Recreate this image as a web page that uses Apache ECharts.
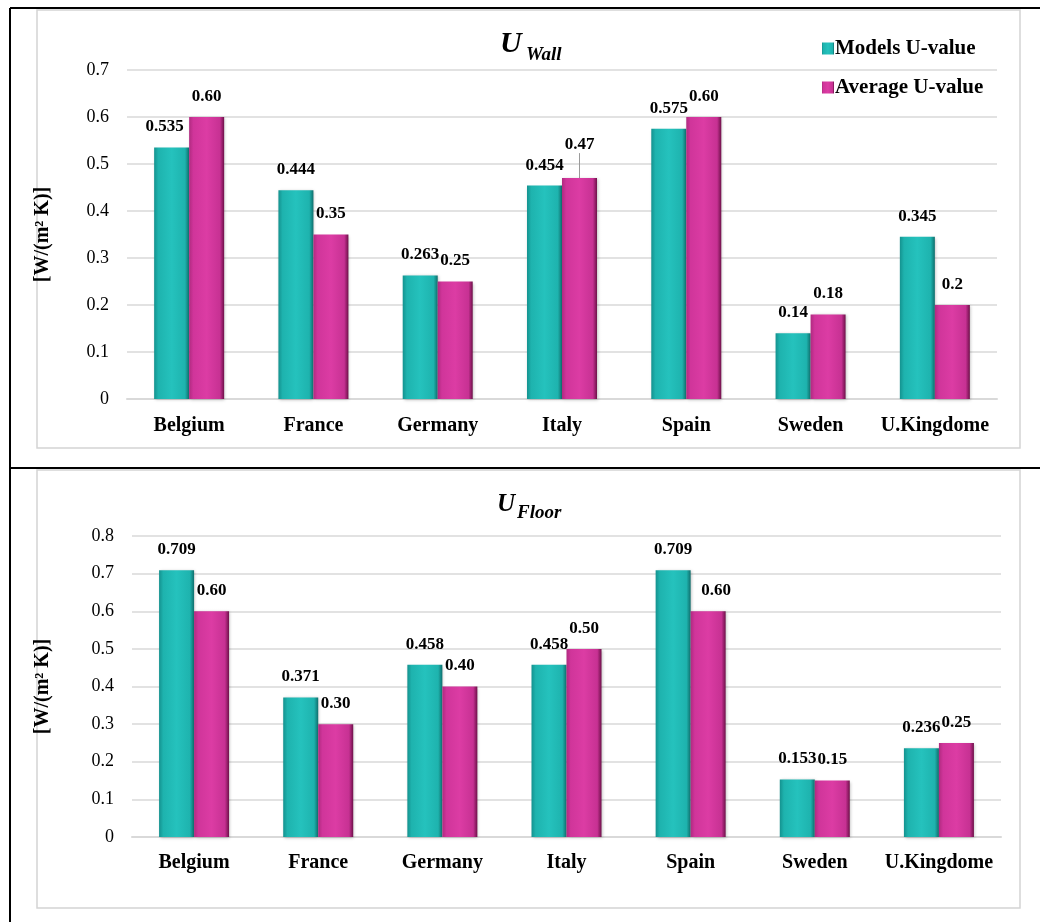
<!DOCTYPE html>
<html>
<head>
<meta charset="utf-8">
<script src="https://cdn.jsdelivr.net/npm/echarts@6/dist/echarts.min.js"></script>
<style>
  html, body { margin: 0; padding: 0; background: #ffffff; }
  #chart { width: 1040px; height: 922px; }
</style>
</head>
<body>
<div id="chart"></div>
<script>
// Countries on the category axis
const countries = ['Belgium', 'France', 'Germany', 'Italy', 'Spain', 'Sweden', 'U.Kingdome'];
const seriesNames = ['Models U-value', 'Average U-value'];

// Wall U-values [W/(m² K)], kept as printed
const wallModels  = ['0.535', '0.444', '0.263', '0.454', '0.575', '0.14', '0.345'];
const wallAverage = ['0.60', '0.35', '0.25', '0.47', '0.60', '0.18', '0.2'];

// Floor U-values [W/(m² K)], kept as printed
const floorModels  = ['0.709', '0.371', '0.458', '0.458', '0.709', '0.153', '0.236'];
const floorAverage = ['0.60', '0.30', '0.40', '0.50', '0.60', '0.15', '0.25'];

// Value-axis ticks
const wallTickMax = 0.7;
const floorTickMax = 0.8;
const tickStep = 0.1;

const serif = '"Liberation Serif", "Times New Roman", serif';

// Bevelled bar fills
const tealFill = {
  type: 'linear', x: 0, y: 0, x2: 1, y2: 0,
  colorStops: [
    { offset: 0, color: '#14928f' },
    { offset: 0.12, color: '#1eb3ae' },
    { offset: 0.5, color: '#25c2bd' },
    { offset: 0.88, color: '#1eb3ae' },
    { offset: 1, color: '#0f6f6d' }
  ]
};
const pinkFill = {
  type: 'linear', x: 0, y: 0, x2: 1, y2: 0,
  colorStops: [
    { offset: 0, color: '#b02a80' },
    { offset: 0.12, color: '#d0359a' },
    { offset: 0.5, color: '#dc3ca4' },
    { offset: 0.88, color: '#c73193' },
    { offset: 1, color: '#6e1049' }
  ]
};

// Small horizontal label shifts where neighbouring labels would collide
const labelShiftX = {
  wallModels: { 0: -7 },
  floorAverage: { 4: 8 }
};

function barSeries(name, printed, gridIndex, fill, shiftKey, extra) {
  const shifts = labelShiftX[shiftKey] || {};
  return Object.assign({
    type: 'bar',
    name: name,
    xAxisIndex: gridIndex,
    yAxisIndex: gridIndex,
    barWidth: 35,
    barGap: '0%',
    itemStyle: {
      color: fill,
      shadowColor: 'rgba(0,0,0,0.25)',
      shadowBlur: 3,
      shadowOffsetX: 1,
      shadowOffsetY: 1
    },
    label: {
      show: true,
      position: 'top',
      distance: 12,
      color: '#000',
      fontFamily: serif,
      fontWeight: 'bold',
      fontSize: 17,
      formatter: p => printed[p.dataIndex]
    },
    data: printed.map((txt, i) => {
      const item = { value: Number(txt) };
      if (shifts[i] !== undefined) item.label = { offset: [shifts[i], 0] };
      return item;
    })
  }, extra || {});
}

const axisLabelFmt = v => (v === 0 ? '0' : v.toFixed(1));

function valueAxis(gridIndex, max, gap) {
  return {
    type: 'value',
    gridIndex: gridIndex,
    min: 0,
    max: max,
    interval: tickStep,
    name: '[W/(m² K)]',
    nameLocation: 'middle',
    nameRotate: 90,
    nameGap: gap,
    nameTextStyle: { fontFamily: serif, fontWeight: 'bold', fontSize: 20, color: '#000' },
    axisLine: { show: false },
    axisTick: { show: false },
    axisLabel: { fontFamily: serif, fontSize: 18, color: '#000', margin: 18, formatter: axisLabelFmt },
    splitLine: { lineStyle: { color: '#d9d9d9', width: 1.5 } }
  };
}

function categoryAxis(gridIndex, margin) {
  return {
    type: 'category',
    gridIndex: gridIndex,
    data: countries,
    axisLine: { lineStyle: { color: '#d9d9d9', width: 2 } },
    axisTick: { show: false },
    axisLabel: { fontFamily: serif, fontWeight: 'bold', fontSize: 20, color: '#000', margin: margin, interval: 0 }
  };
}

// Italy's average wall label sits higher, tied to its bar by a guide line
const wallAverageSeries = barSeries(seriesNames[1], wallAverage, 0, pinkFill, 'wallAverage', {
  labelLayout: p => (p.dataIndex === 3 ? { dy: -13 } : {}),
  labelLine: { show: false, lineStyle: { color: '#9a9a9a', width: 1 } }
});
wallAverageSeries.data[3].labelLine = { show: true, lineStyle: { color: '#9a9a9a', width: 1 } };

const option = {
  backgroundColor: '#ffffff',
  animation: false,
  textStyle: { fontFamily: serif },
  legend: {
    data: seriesNames,
    orient: 'vertical',
    left: 817,
    top: 33,
    itemWidth: 12,
    itemHeight: 12,
    itemGap: 18,
    icon: 'rect',
    textStyle: { fontFamily: serif, fontWeight: 'bold', fontSize: 21, color: '#000', padding: [0, 0, 0, -4] }
  },
  grid: [
    { left: 127, right: 43, top: 70, bottom: 523 },
    { left: 132, right: 39, top: 536, bottom: 85 }
  ],
  xAxis: [categoryAxis(0, 17), categoryAxis(1, 16)],
  yAxis: [valueAxis(0, wallTickMax, 74), valueAxis(1, floorTickMax, 79)],
  series: [
    barSeries(seriesNames[0], wallModels, 0, tealFill, 'wallModels'),
    wallAverageSeries,
    barSeries(seriesNames[0], floorModels, 1, tealFill, 'floorModels'),
    barSeries(seriesNames[1], floorAverage, 1, pinkFill, 'floorAverage')
  ],
  graphic: [
    // table rules
    { type: 'line', shape: { x1: 10, y1: 8, x2: 1040, y2: 8 }, style: { stroke: '#000', lineWidth: 2 } },
    { type: 'line', shape: { x1: 10, y1: 468, x2: 1040, y2: 468 }, style: { stroke: '#000', lineWidth: 2 } },
    { type: 'line', shape: { x1: 10, y1: 8, x2: 10, y2: 922 }, style: { stroke: '#000', lineWidth: 2 } },
    // chart frames
    { type: 'rect', shape: { x: 37, y: 10, width: 983, height: 438 },
      style: { fill: 'none', stroke: '#d4d4d4', lineWidth: 1.5 } },
    { type: 'rect', shape: { x: 37, y: 470, width: 983, height: 438 },
      style: { fill: 'none', stroke: '#d4d4d4', lineWidth: 1.5 } },
    // chart titles: U with subscript
    { type: 'text', x: 500, y: 29,
      style: { text: 'U', font: 'italic bold 30px ' + serif, fill: '#000', textAlign: 'left', textVerticalAlign: 'top' } },
    { type: 'text', x: 526, y: 46,
      style: { text: 'Wall', font: 'italic bold 19px ' + serif, fill: '#000', textAlign: 'left', textVerticalAlign: 'top' } },
    { type: 'text', x: 497, y: 492,
      style: { text: 'U', font: 'italic bold 25px ' + serif, fill: '#000', textAlign: 'left', textVerticalAlign: 'top' } },
    { type: 'text', x: 517, y: 504,
      style: { text: 'Floor', font: 'italic bold 19px ' + serif, fill: '#000', textAlign: 'left', textVerticalAlign: 'top' } }
  ]
};

const chart = echarts.init(document.getElementById('chart'), null, { renderer: 'canvas' });
chart.setOption(option);
</script>
</body>
</html>
